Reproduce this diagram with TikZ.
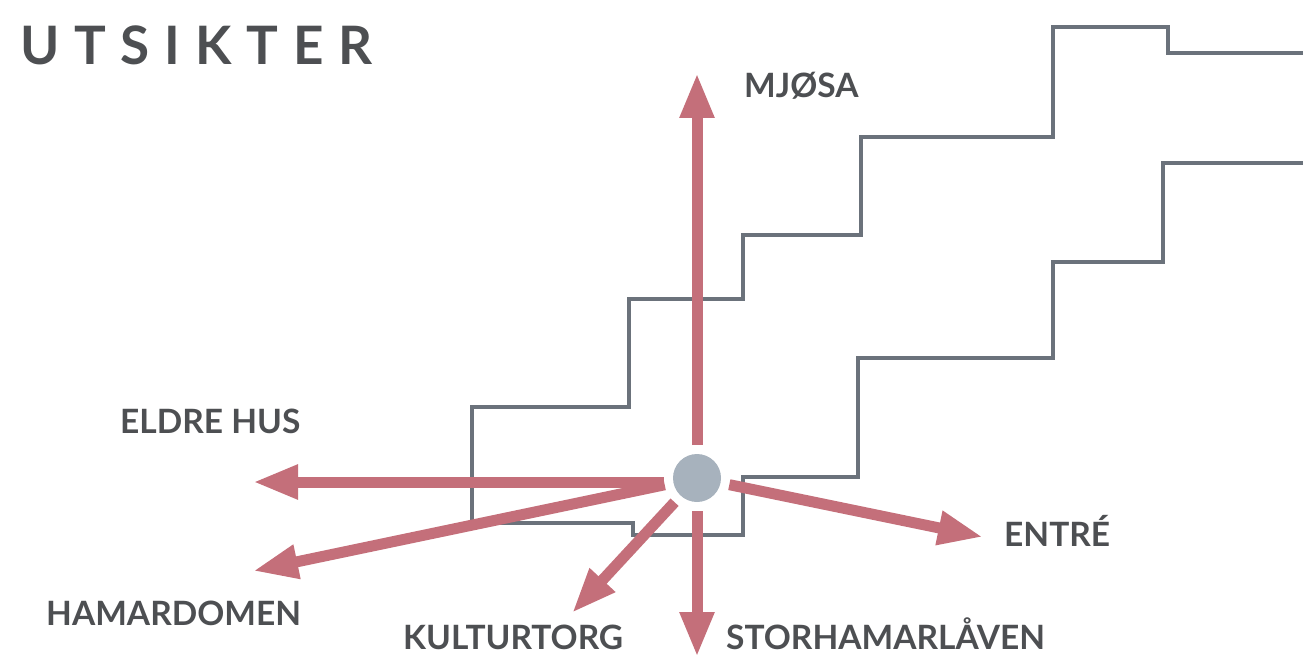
\documentclass[tikz,border=0pt]{standalone}
\usepackage{fontspec}
\setmainfont{Lato}
\newfontfamily\titlefont[LetterSpace=28]{Lato}
\usetikzlibrary{arrows.meta}

\definecolor{rose}{RGB}{196,111,122}
\definecolor{wall}{RGB}{107,114,123}
\definecolor{dot}{RGB}{167,178,189}
\definecolor{ink}{RGB}{77,79,82}

\begin{document}
\begin{tikzpicture}[x=1pt,y=-1pt,
	view/.style={draw=rose,line width=11pt,-{Triangle[length=45pt,width=32pt]}},
	place/.style={text=ink,font=\fontsize{33.5}{40}\selectfont\bfseries,inner sep=0pt,anchor=base west}]
	
	\useasboundingbox (0,0) rectangle (1303,666);
	
	\node[text=ink,font=\titlefont\fontsize{53}{60}\selectfont\bfseries,inner sep=0pt,anchor=base west] (title) at (20,65) {UTSIKTER};
	
	% stairs
	\draw[wall,line width=4pt] (1303,53) -- (1168,53) -- (1168,27) -- (1053,27) -- (1053,137)
		-- (861,137) -- (861,235) -- (743,235) -- (743,299) -- (629,299) -- (629,407)
		-- (472,407) -- (472,523) -- (633,523) -- (633,535) -- (743,535) -- (743,477)
		-- (858,477) -- (858,358) -- (1053,358) -- (1053,262) -- (1163,262) -- (1163,163) -- (1303,163);
	
	\node[circle,fill=dot,minimum size=48pt,inner sep=0pt,outer sep=9pt] (c) at (697,478) {};
	
	\coordinate (up) at (697,73);
	\coordinate (down) at (697,657);
	\coordinate (left) at (253,482);
	\coordinate (leftdown) at (253,571);
	\coordinate (kult) at (572,613);
	\coordinate (entre) at (983,537);
	
	\draw[view] (c) -- (up);
	\draw[view] (c) -- (down);
	\draw[view] (c.west |- left) -- (left);
	\draw[view] (c) -- (leftdown);
	\draw[view] (c) -- (kult);
	\draw[view] (c) -- (entre);
	
	\node[place] (mjosa) at (744,98) {MJØSA};
	\node[place] (eldre) at (120,433) {ELDRE HUS};
	\node[place] (hamar) at (46,625) {HAMARDOMEN};
	\node[place] (torg) at (403,649) {KULTURTORG};
	\node[place] (laave) at (726,649) {STORHAMARLÅVEN};
	\node[place] (entretxt) at (1004,546) {ENTRÉ};
	
\end{tikzpicture}
\end{document}
